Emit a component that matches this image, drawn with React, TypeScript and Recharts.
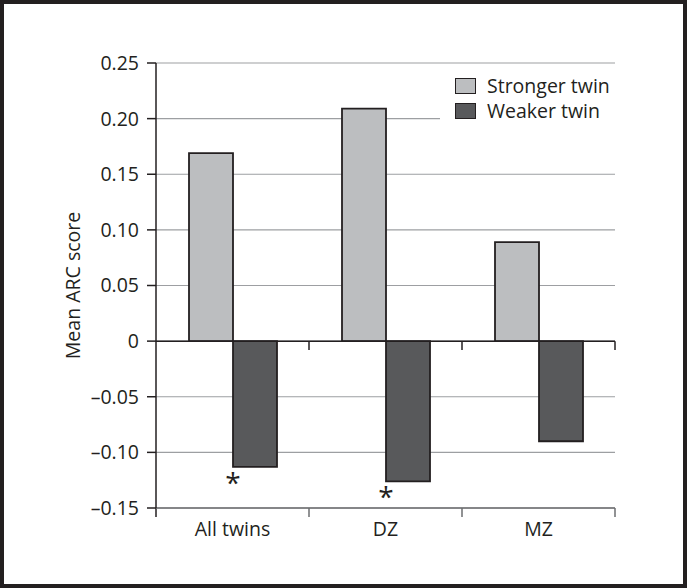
import { Bar, BarChart, CartesianGrid, LabelList, Legend, ReferenceLine, XAxis, YAxis } from "recharts";

const categories = ["All twins", "DZ", "MZ"];
const strongerTwin = [0.169, 0.209, 0.089];
const weakerTwin = [-0.113, -0.126, -0.09];
const significant = [true, true, false];
const yTicks = [-0.15, -0.1, -0.05, 0, 0.05, 0.1, 0.15, 0.2, 0.25];
// category boundaries where the axis ticks sit
const boundaries: { cat: string; pos: "start" | "end" }[] = [
    { cat: "All twins", pos: "start" },
    { cat: "DZ", pos: "start" },
    { cat: "MZ", pos: "start" },
    { cat: "MZ", pos: "end" },
];

const FONT = "'Open Sans', 'Noto Sans', sans-serif";
const FS = 19.5;
const INK = "#231f20";
const STRONG_FILL = "#bcbec0";
const WEAK_FILL = "#58595b";

const data = categories.map((name, i) => ({
    name,
    stronger: strongerTwin[i],
    weaker: weakerTwin[i],
}));

const fmt = (v: number) => (v === 0 ? "0" : (v < 0 ? "\u2013" : "") + Math.abs(v).toFixed(2));

function Star(props: any) {
    const { x, y, height, index } = props;
    if (!significant[index]) return null;
    const bottom = Math.max(y, y + height);
    return (
        <text x={x} y={bottom + 26} textAnchor="middle" fontSize={28} fontFamily={FONT} fill={INK}>
            *
        </text>
    );
}

function LegendBox(props: any) {
    const items = props.payload || [];
    return (
        <div style={{ background: "#fff", width: 180, height: 58, boxSizing: "border-box", paddingTop: 6, paddingLeft: 15 }}>
            {items.map((item: any) => (
                <div key={item.value} style={{ display: "flex", alignItems: "center", height: 25 }}>
                    <div style={{ width: 19, height: 14, background: item.color, border: `1.5px solid ${INK}` }} />
                    <span style={{ marginLeft: 11, fontFamily: FONT, fontSize: FS, color: INK, lineHeight: "25px" }}>{item.value}</span>
                </div>
            ))}
        </div>
    );
}

export default function App() {
    return (
        <div style={{ position: "absolute", left: 0, top: 0, width: 687, height: 588, background: "#fff" }}>
            <BarChart
                width={687}
                height={588}
                data={data}
                margin={{ top: 63, right: 72, bottom: 0, left: 0 }}
                barGap={0}
                barSize={44}
            >
                <CartesianGrid vertical={false} stroke="#9d9fa2" strokeWidth={1.2} />
                <XAxis
                    dataKey="name"
                    height={80}
                    axisLine={{ stroke: "#6d6e71", strokeWidth: 1.5 }}
                    tickLine={false}
                    tickSize={0}
                    tickMargin={14}
                    tick={{ fontSize: FS, fontFamily: FONT, fill: INK }}
                />
                <YAxis
                    width={156}
                    domain={[-0.15, 0.25]}
                    ticks={yTicks}
                    interval={0}
                    tickFormatter={fmt}
                    tickSize={9}
                    tickMargin={8}
                    axisLine={{ stroke: INK, strokeWidth: 1.5 }}
                    tickLine={{ stroke: INK, strokeWidth: 1.5 }}
                    tick={{ fontSize: FS, fontFamily: FONT, fill: INK }}
                    label={{ value: "Mean ARC score", angle: -90, position: "center", dx: -5, style: { fontSize: FS, fontFamily: FONT, fill: INK } }}
                />
                {boundaries.map((b, i) => (
                    <ReferenceLine
                        key={"b" + i}
                        ifOverflow="visible"
                        position={b.pos}
                        segment={[{ x: b.cat, y: -0.15 }, { x: b.cat, y: -0.158 }]}
                        stroke={i === 0 ? INK : "#6d6e71"}
                        strokeWidth={1.5}
                    />
                ))}
                {boundaries.slice(1).map((b, i) => (
                    <ReferenceLine
                        key={"z" + i}
                        ifOverflow="visible"
                        position={b.pos}
                        segment={[{ x: b.cat, y: 0 }, { x: b.cat, y: -0.008 }]}
                        stroke={INK}
                        strokeWidth={1.5}
                    />
                ))}
                <Legend
                    layout="vertical"
                    align="center"
                    verticalAlign="middle"
                    wrapperStyle={{ position: "absolute", left: 440, top: 67, width: 180 }}
                    content={<LegendBox />}
                />
                <Bar dataKey="stronger" name="Stronger twin" fill={STRONG_FILL} stroke={INK} strokeWidth={1.8} isAnimationActive={false} />
                <Bar dataKey="weaker" name="Weaker twin" fill={WEAK_FILL} stroke={INK} strokeWidth={1.8} isAnimationActive={false}>
                    <LabelList dataKey="weaker" content={<Star />} />
                </Bar>
                <ReferenceLine y={0} stroke={INK} strokeWidth={1.5} />
            </BarChart>
            <div
                style={{
                    position: "absolute",
                    left: 0,
                    top: 0,
                    width: 687,
                    height: 588,
                    boxSizing: "border-box",
                    border: `4px solid ${INK}`,
                    pointerEvents: "none",
                }}
            />
        </div>
    );
}
